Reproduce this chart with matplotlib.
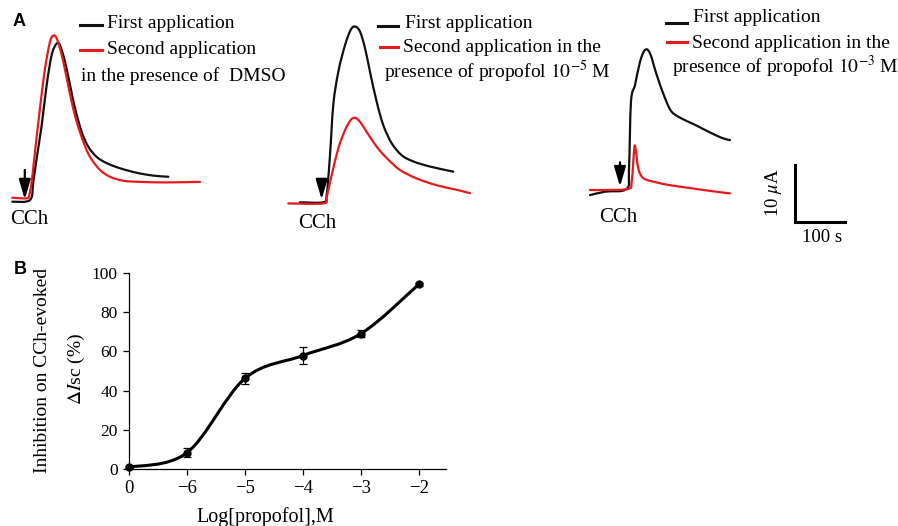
import numpy as np
import matplotlib
matplotlib.use("Agg")
import matplotlib.pyplot as plt
from matplotlib.path import Path
from matplotlib.patches import PathPatch
from matplotlib.lines import Line2D

plt.rcParams['font.family'] = ['Liberation Serif', 'DejaVu Serif']
plt.rcParams['mathtext.fontset'] = 'stix'

# ---- panel A traces: time (s), current (uA) ----
t1_first = [0, 35.4, 42, 48.8, 58.8, 68.8, 78.8, 88.8, 95.4, 105.4, 115.4, 125.4, 138.8, 152,
            168.8, 188.8, 215.4, 248.8, 282, 312]
i1_first = [0, 0.3, 3.5, 7.7, 13.5, 20.6, 25.9, 27.9, 27.6, 24.7, 20.6, 16.5, 12.3, 9.7,
            7.9, 6.8, 5.9, 5.1, 4.6, 4.4]
t1_second = [0, 28.8, 34, 38.8, 45.4, 55.4, 65.4, 75.4, 82, 88.8, 98.8, 108.8, 118.8, 128.8,
             142, 155.4, 175.4, 195.4, 222, 255.4, 308.8, 375.4]
i1_second = [0.7, 0.6, 1.2, 3.5, 8.8, 16.5, 23.5, 28.2, 29.3, 28.8, 25.9, 21.8, 17.6, 14.1,
             10.6, 7.9, 5.6, 4.4, 3.7, 3.5, 3.4, 3.5]

t2_first = [23, 70, 76.8, 83.4, 90, 100, 113.4, 124.8, 133.4, 143.4, 153.4, 163.4, 176.8, 190,
            206.8, 226.8, 250, 283.4, 330]
i2_first = [-0.1, -0.1, 1.2, 8.2, 17.1, 22.9, 27.6, 30.3, 30.9, 30.0, 27.1, 22.9, 17.6, 13.5,
            10.3, 8.2, 7.1, 6.2, 5.3]
t2_second = [0, 70, 76.8, 86.8, 100, 113.4, 124.8, 133.4, 143.4, 156.8, 176.8, 196.8, 223.4,
             256.8, 296.8, 336.8, 363.4]
i2_second = [-0.3, -0.3, 0.9, 4.7, 9.4, 12.6, 14.4, 14.8, 14.1, 12.3, 9.7, 7.7, 5.6,
             4.1, 2.9, 2.1, 1.5]

t3_first = [0, 30, 73.4, 78, 82, 90, 100, 110, 120, 133.4, 150, 163.4, 183.4, 210, 236.6,
            263.4, 280]
i3_first = [-0.6, 0, 0.5, 4.1, 15.9, 18.8, 22.9, 25.0, 24.4, 20.6, 16.5, 14.1, 12.9, 11.8, 10.6,
            9.5, 9.1]
t3_second = [0, 30, 76.6, 83.4, 88.6, 91.4, 96.6, 106.6, 130, 163.4, 203.4, 243.4, 280]
i3_second = [0.3, 0.3, 0.5, 1.8, 7.7, 7.4, 4.1, 2.4, 1.7, 1.1, 0.6, 0.1, -0.3]

# ---- panel B data ----
log_labels = ['0', '\u22126', '\u22125', '\u22124', '\u22123', '\u22122']
inhibition = [0.9, 8.3, 46.2, 57.9, 69.0, 94.2]
inhibition_err = [0.5, 2.3, 3.0, 4.5, 1.8, 0.6]

W, H = 898, 526
S_PER_PX = 2.0
UA_PER_PX = 10 / 56.7
BLACK = '#111111'
RED = '#e8191c'

fig = plt.figure(figsize=(W / 100, H / 100), dpi=100)


def fx(x):
    return x / W


def fy(y):
    return 1 - y / H


def smooth(ax, xs, ys, **kw):
    # Catmull-Rom style cubic bezier through the points (like a smoothed line)
    p = np.column_stack([xs, ys]).astype(float)
    verts = [p[0]]
    codes = [Path.MOVETO]
    n = len(p)
    for k in range(n - 1):
        p0 = p[k - 1] if k > 0 else p[k]
        p3 = p[k + 2] if k + 2 < n else p[k + 1]
        c1 = p[k] + (p[k + 1] - p0) / 6
        c2 = p[k + 1] - (p3 - p[k]) / 6
        verts += [c1, c2, p[k + 1]]
        codes += [Path.CURVE4] * 3
    patch = PathPatch(Path(verts, codes), fill=False, capstyle='round', joinstyle='round', **kw)
    patch.set_clip_on(False)
    ax.add_patch(patch)


def trace_axes(ox, oy, left, right, top=0, bottom=250):
    ax = fig.add_axes([fx(left), fy(bottom), (right - left) / W, (bottom - top) / H])
    ax.set_xlim((left - ox) * S_PER_PX, (right - ox) * S_PER_PX)
    ax.set_ylim((oy - bottom) * UA_PER_PX, (oy - top) * UA_PER_PX)
    ax.axis('off')
    ax.patch.set_alpha(0)
    return ax


def arrow(ax, t, i_top, i_tip):
    ax.annotate('', xy=(t, i_tip), xytext=(t, i_top),
                arrowprops=dict(arrowstyle='-|>,head_length=0.75,head_width=0.22', color='black',
                                lw=1.6, mutation_scale=16, shrinkA=0, shrinkB=0))


ax1 = trace_axes(12.3, 201.7, 0, 265)
smooth(ax1, t1_first, i1_first, color=BLACK, lw=1.6)
smooth(ax1, t1_second, i1_second, color=RED, lw=1.6)
arrow(ax1, 25, 5.6, 0.4)

ax2 = trace_axes(288.3, 201.7, 270, 580)
smooth(ax2, t2_first, i2_first, color=BLACK, lw=1.6)
smooth(ax2, t2_second, i2_second, color=RED, lw=1.6)
arrow(ax2, 66.7, 3.8, 0.4)

ax3 = trace_axes(590, 191.7, 580, 898)
smooth(ax3, t3_first, i3_first, color=BLACK, lw=1.6)
smooth(ax3, t3_second, i3_second, color=RED, lw=1.6)
arrow(ax3, 60, 5.2, 0.9)
# scale bar 10 uA / 100 s
sb_t, sb_i = 410, -5.35
ax3.plot([sb_t, sb_t, sb_t + 100], [sb_i + 10, sb_i, sb_i], color='black', lw=2.2,
         solid_joinstyle='miter', clip_on=False)
fig.text(fx(773), fy(193), r'10 $\mu$A', rotation=90, ha='center', va='center', fontsize=13.5)
fig.text(fx(822), fy(238), '100 s', ha='center', va='center', fontsize=13.5)

for x, y in [(29, 219), (317, 223), (618, 217)]:
    fig.text(fx(x), fy(y), 'CCh', ha='center', va='center', fontsize=15)

# legends drawn as short segments + text
legend_items = [
    ((80, 102, 25), BLACK, (107, 24), 'First application'),
    ((80, 102, 50), RED, (107, 49), 'Second application'),
    ((None, None, None), None, (81, 76), 'in the presence of  DMSO'),
    ((378, 398, 26), BLACK, (405, 23), 'First application'),
    ((380, 398, 47), RED, (403, 47), 'Second application in the'),
    ((None, None, None), None, (384, 72), r'presence of propofol $10^{-5}$ M'),
    ((666, 687, 23), BLACK, (693, 17), 'First application'),
    ((667, 687, 42), RED, (692, 43), 'Second application in the'),
    ((None, None, None), None, (672, 67), r'presence of propofol $10^{-3}$ M'),
]
for (x1, x2, ly), col, (tx, ty), txt in legend_items:
    if col is not None:
        fig.add_artist(Line2D([fx(x1), fx(x2)], [fy(ly), fy(ly)], color=col, lw=2.2,
                              transform=fig.transFigure))
    fig.text(fx(tx), fy(ty), txt, ha='left', va='center', fontsize=14)

fig.text(fx(19), fy(22), 'A', family='Liberation Sans', weight='bold', fontsize=13,
         ha='center', va='center')
fig.text(fx(20), fy(269), 'B', family='Liberation Sans', weight='bold', fontsize=13,
         ha='center', va='center')

# ---- panel B ----
axb = fig.add_axes([fx(129), fy(469), (446 - 129) / W, (469 - 273) / H])
xpos = np.arange(len(log_labels))
smooth(axb, xpos, inhibition, color='black', lw=2.2)
axb.errorbar(xpos, inhibition, yerr=inhibition_err, fmt='o', color='black', ms=5,
             capsize=3, elinewidth=0.9, capthick=0.9, clip_on=False, zorder=3)
axb.set_xlim(0, 5.47)
axb.set_ylim(0, 100)
axb.set_yticks(range(0, 101, 20))
axb.set_xticks(xpos)
axb.set_xticklabels(log_labels)
for s in ['top', 'right']:
    axb.spines[s].set_visible(False)
for s in ['left', 'bottom']:
    axb.spines[s].set_linewidth(0.9)
axb.tick_params(direction='out', length=4, width=0.9, labelsize=12.5, pad=4)
axb.tick_params(axis='x', labelsize=13.5)
axb.patch.set_alpha(0)

fig.text(fx(43), fy(370), 'Inhibition on CCh-evoked', rotation=90, ha='center', va='center',
         fontsize=14)
fig.text(fx(76), fy(369), r'$\Delta I$sc (%)', rotation=90, ha='center', va='center',
         fontsize=14)
fig.text(fx(265), fy(517), 'Log[propofol],M', ha='center', va='center', fontsize=14.5)

fig.savefig('out.png', dpi=100)
